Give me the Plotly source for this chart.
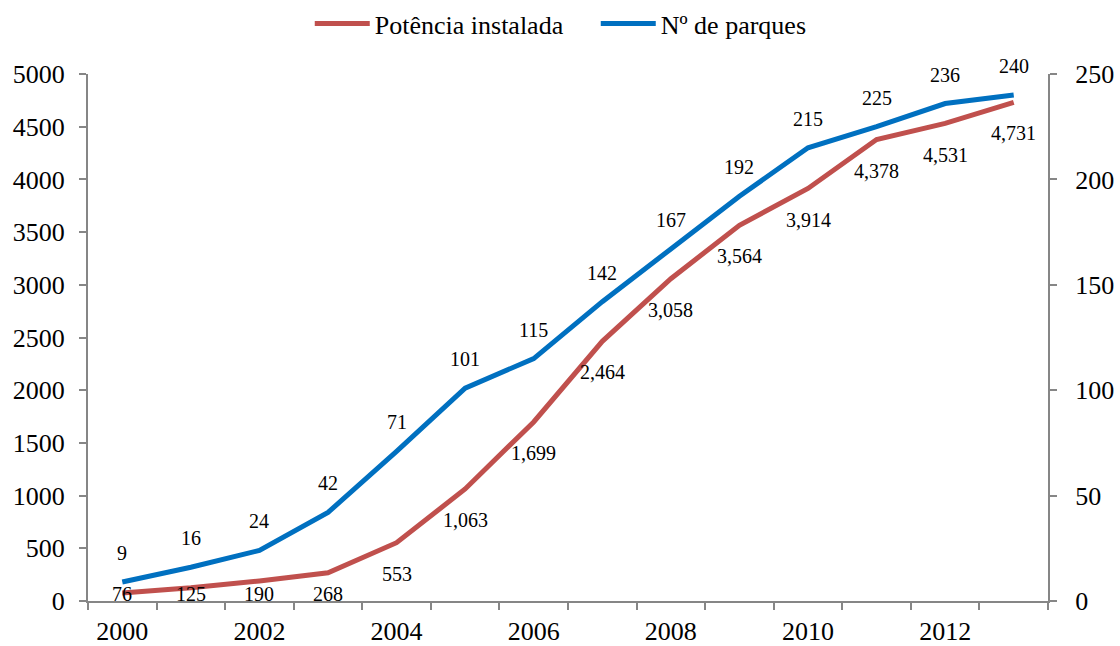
"""Potência instalada vs Nº de parques, 2000-2013 (dual-axis line chart)."""

import plotly.graph_objects as go

years = list(range(2000, 2014))
potencia = [76, 125, 190, 268, 553, 1063, 1699, 2464, 3058, 3564, 3914, 4378, 4531, 4731]
parques = [9, 16, 24, 42, 71, 101, 115, 142, 167, 192, 215, 225, 236, 240]

left_ticks = list(range(0, 5001, 500))
right_ticks = list(range(0, 251, 50))
year_labels = [2000, 2002, 2004, 2006, 2008, 2010, 2012]

RED = "#C0504D"
BLUE = "#0070C0"
AXIS = "#868686"
FONT = "Liberation Serif"

# plot area: 74px below the top of the figure, 45px above the bottom
FIG_H = 646
BOTTOM = 45
TOP_GAP = 74
plot_top = (FIG_H - BOTTOM - TOP_GAP) / (FIG_H - BOTTOM)

fig = go.Figure()

fig.add_trace(
    go.Scatter(
        x=years,
        y=potencia,
        mode="lines",
        name="Potência instalada",
        line=dict(color=RED, width=5),
        yaxis="y",
    )
)
fig.add_trace(
    go.Scatter(
        x=years,
        y=parques,
        mode="lines",
        name="Nº de parques",
        line=dict(color=BLUE, width=5),
        yaxis="y2",
    )
)

# data labels: red ones sit below the line (kept inside the plot), blue ones above
annotations = []
for yr, v in zip(years, potencia):
    annotations.append(
        dict(
            x=yr,
            y=max(v - 295, 66),
            xref="x",
            yref="y",
            text=f"{v:,}",
            showarrow=False,
            font=dict(family=FONT, size=20, color="#000000"),
        )
    )
for yr, v in zip(years, parques):
    annotations.append(
        dict(
            x=yr,
            y=v,
            xref="x",
            yref="y2",
            yshift=29,
            text=str(v),
            showarrow=False,
            font=dict(family=FONT, size=20, color="#000000"),
        )
    )

axis_font = dict(family=FONT, size=26, color="#000000")

fig.update_layout(
    width=1120,
    height=FIG_H,
    plot_bgcolor="white",
    paper_bgcolor="white",
    font=dict(family=FONT, size=26, color="#000000"),
    margin=dict(l=88, r=72, t=0, b=BOTTOM),
    showlegend=True,
    legend=dict(
        orientation="h",
        x=0.231,
        xanchor="left",
        y=1.0,
        yanchor="top",
        font=dict(family=FONT, size=26, color="#000000"),
        itemwidth=55,
        entrywidth=216,
        tracegroupgap=0,
        bgcolor="rgba(0,0,0,0)",
    ),
    annotations=annotations,
    xaxis=dict(
        range=[1999.5, 2013.5],
        tickvals=year_labels,
        ticktext=[str(y) for y in year_labels],
        ticks="",
        tickfont=axis_font,
        ticklabelstandoff=6,
        automargin=False,
        showgrid=False,
        zeroline=False,
        showline=True,
        linecolor=AXIS,
        linewidth=2,
        minor=dict(
            tickvals=[y - 0.5 for y in years] + [years[-1] + 0.5],
            ticks="outside",
            ticklen=7,
            tickcolor=AXIS,
            tickwidth=2,
            showgrid=False,
        ),
    ),
    yaxis=dict(
        range=[0, 5000],
        domain=[0, plot_top],
        tickvals=left_ticks,
        ticks="outside",
        ticklen=7,
        tickwidth=2,
        tickcolor=AXIS,
        tickfont=axis_font,
        ticklabelstandoff=9,
        automargin=False,
        showgrid=False,
        zeroline=False,
        showline=True,
        linecolor=AXIS,
        linewidth=2,
    ),
    yaxis2=dict(
        range=[0, 250],
        domain=[0, plot_top],
        tickvals=right_ticks,
        overlaying="y",
        side="right",
        ticks="outside",
        ticklen=7,
        tickwidth=2,
        tickcolor=AXIS,
        tickfont=axis_font,
        ticklabelstandoff=13,
        automargin=False,
        showgrid=False,
        zeroline=False,
        showline=True,
        linecolor=AXIS,
        linewidth=2,
    ),
)

# drop the default page margin so the figure sits at the window's corner
fig.write_html(
    "out.html",
    config={"displayModeBar": False},
    post_script="document.body.style.margin='0';",
)
